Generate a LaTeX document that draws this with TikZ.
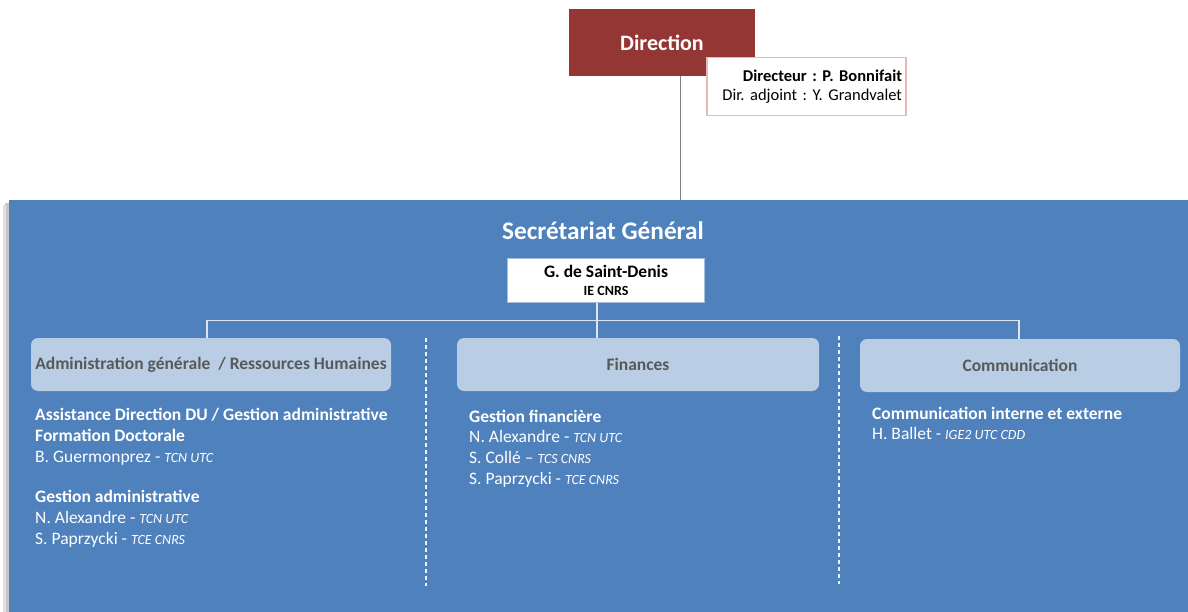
\documentclass[tikz,border=0pt]{standalone}
\usepackage{fontspec}
\setmainfont{Carlito}
\frenchspacing
\definecolor{dirred}{HTML}{943634}
\definecolor{pinkb}{HTML}{E6B9B8}
\definecolor{panelblue}{HTML}{4F81BD}
\definecolor{lightblue}{HTML}{B9CDE5}
\definecolor{darkgraytxt}{HTML}{595959}
\definecolor{treeline}{HTML}{DCE6F2}
\newcommand\rk[1]{{\fontsize{14}{20.7}\selectfont\itshape #1}}
\newcommand\hd{\bfseries}
\tikzset{
  dirbox/.style={fill=dirred, text=white, font=\fontsize{22}{24}\selectfont\bfseries, minimum width=186pt, minimum height=67pt, inner sep=0pt},
  infobox/.style={fill=white, draw=pinkb, line width=1.6pt, text width=191pt, align=right, inner xsep=4pt, minimum height=58pt, font=\fontsize{16.5}{19}\selectfont},
  panel/.style={fill=panelblue, minimum width=1180pt, minimum height=413pt, inner sep=0pt, anchor=north west},
  gsdbox/.style={fill=white, draw=lightblue!80!panelblue, line width=1.8pt, minimum width=197pt, minimum height=44pt, inner sep=0pt, align=center, font=\fontsize{17.5}{17.5}\selectfont\bfseries},
  unitbox/.style={fill=lightblue, rounded corners=7pt, minimum height=53pt, inner sep=0pt, text=darkgraytxt, font=\fontsize{17.5}{20}\selectfont\bfseries},
  tree/.style={draw=treeline, line width=1.2pt},
  sep/.style={draw=white!90!panelblue, line width=1.2pt, dash pattern=on 4pt off 3pt},
  txt/.style={text=white, align=left, anchor=north west, inner sep=0pt, font=\fontsize{17.5}{20.7}\selectfont},
}
\begin{document}
\begin{tikzpicture}[x=1pt,y=-1pt]
\useasboundingbox (0,0) rectangle (1188,612);
\fill[white] (0,0) rectangle (1188,612);
% shadow of panel
\fill[black!22] (5,203) rectangle (12,612);
\fill[black!12] (3,205) rectangle (6,612);
\node[panel] (sg) at (9,200) {};
\node[dirbox] (dir) at (662,42.5) {Direction};
\node[infobox] (info) at (806.5,86.5) {\textbf{Directeur : P. Bonnifait}\\Dir. adjoint : Y. Grandvalet};
\coordinate (dl) at (680,76);
\draw[draw=black!50, line width=1pt] (dl) -- (dl |- sg.north);
\node[text=white, font=\fontsize{25.3}{28}\selectfont\bfseries] (sgt) at (603,231) {Secrétariat Général};
\node[gsdbox] (gsd) at (606,280.5) {G. de Saint-Denis\\{\fontsize{14}{17.5}\selectfont IE CNRS}};
\node[unitbox, minimum width=360pt] (adm) at (211,364.5) {Administration générale\ \ / Ressources Humaines};
\node[unitbox, minimum width=362pt] (fin) at (638,364.5) {Finances};
\node[unitbox, minimum width=320pt] (com) at (1020,365.5) {Communication};
\coordinate (busL) at (207,320.5);
\coordinate (busR) at (1019,320.5);
\coordinate (busM) at (597,320.5);
\draw[tree] (adm.north -| busL) -- (busL) -- (busR) -- (com.north -| busR);
\draw[tree] (gsd.south -| busM) -- (fin.north -| busM);
\coordinate (s1t) at (426,338); \coordinate (s1b) at (426,586);
\coordinate (s2t) at (839,336); \coordinate (s2b) at (839,584);
\draw[sep] (s1t) -- (s1b);
\draw[sep] (s2t) -- (s2b);
\node[txt, font=\fontsize{17.5}{21.1}\selectfont] (t1) at (35,407.5) {{\hd Assistance Direction DU / Gestion administrative}\\{\hd Formation Doctorale}\\B. Guermonprez - \rk{TCN UTC}\\[19pt]{\hd Gestion administrative}\\N. Alexandre - \rk{TCN UTC}\\S. Paprzycki - \rk{TCE CNRS}};
\node[txt] (t2) at (469,409.5) {{\hd Gestion financière}\\N. Alexandre - \rk{TCN UTC}\\S. Collé -- \rk{TCS CNRS}\\S. Paprzycki - \rk{TCE CNRS}};
\node[txt] (t3) at (872,406.5) {{\hd Communication interne et externe}\\H. Ballet - \rk{IGE2 UTC CDD}};
\end{tikzpicture}
\end{document}
